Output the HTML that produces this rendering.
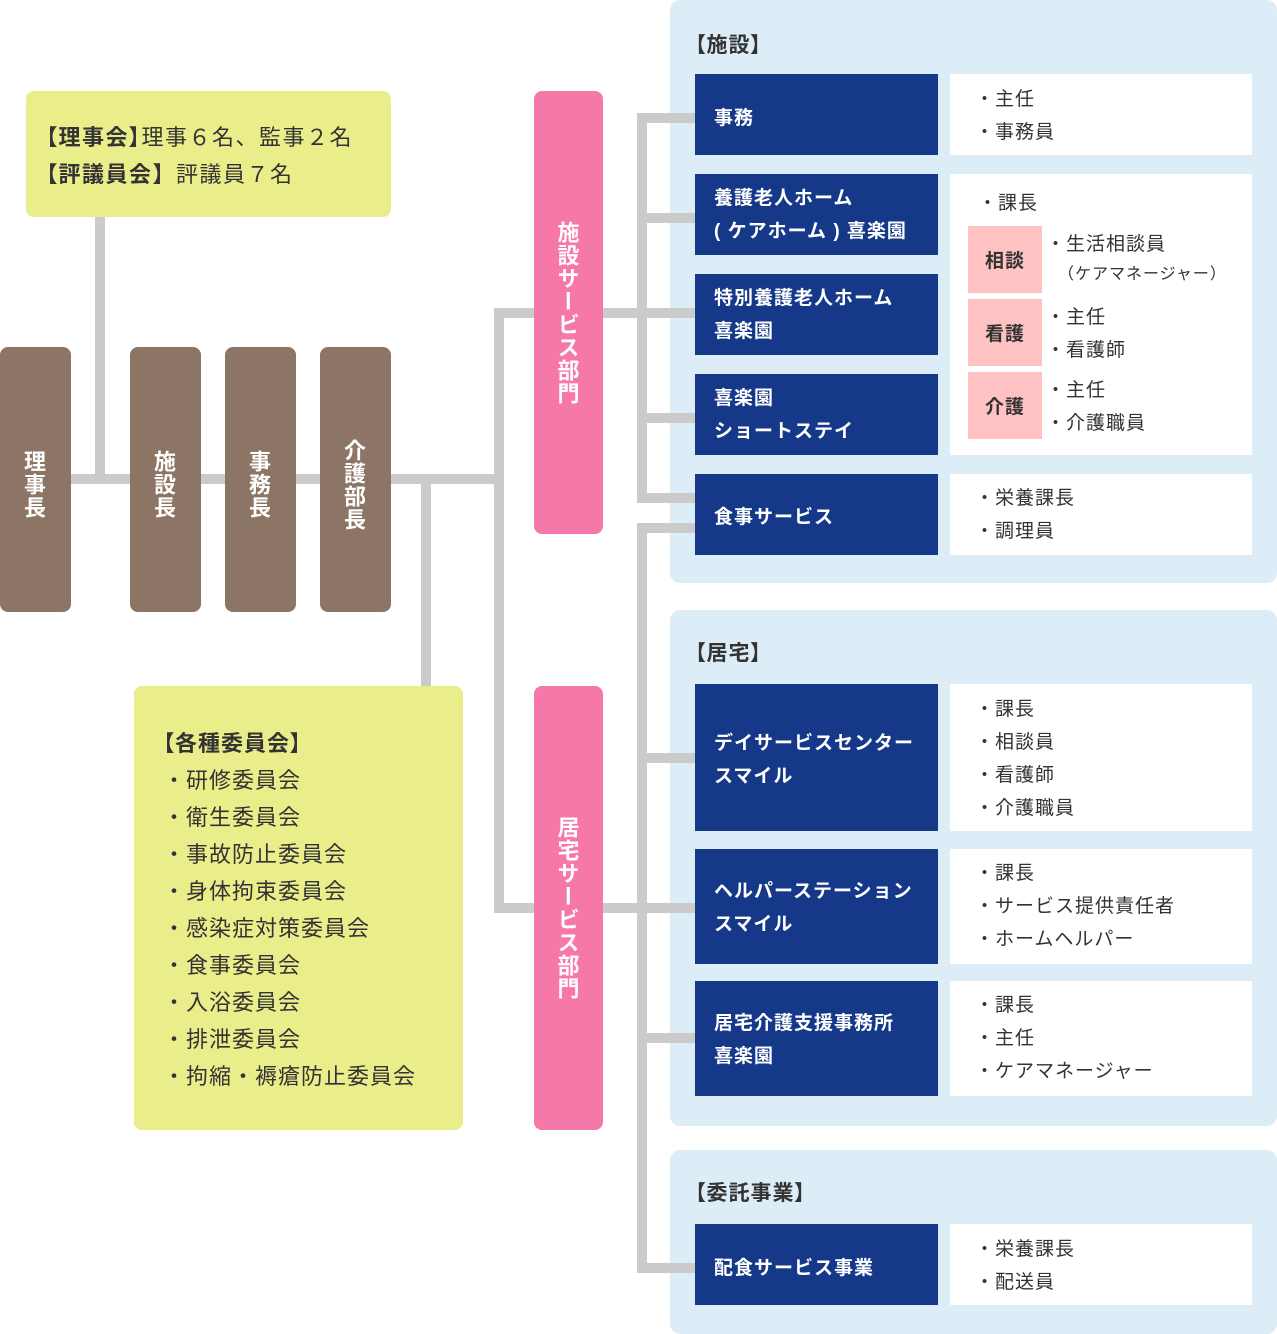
<!DOCTYPE html>
<html><head><meta charset="utf-8">
<style>
*{margin:0;padding:0;box-sizing:border-box}
html,body{width:1277px;height:1334px;overflow:hidden;background:#fff}
body{position:relative;font-family:"Liberation Sans","Noto Sans CJK JP",sans-serif;color:#333}
.ln{position:absolute;background:#cbcbcb}
.panel{position:absolute;left:670px;width:607px;background:#dcedf7;border-radius:10px}
.db{position:absolute;left:695px;width:243px;background:#153889}
.wb{position:absolute;left:950px;width:302px;background:#fff}
.dt{position:absolute;left:714px;color:#fff;font-weight:700;font-size:19px;letter-spacing:1px;line-height:33px;white-space:nowrap}
.wt{position:absolute;left:975px;font-size:19px;letter-spacing:1px;line-height:33px;white-space:nowrap}
.p{font-feature-settings:"palt"}
.brown{position:absolute;top:347px;width:71px;height:265px;background:#8d7565;border-radius:8px;display:flex;align-items:center;justify-content:center;padding-top:10px;padding-right:5px}
.vt{writing-mode:vertical-rl;color:#fff;font-weight:700;font-size:22px;letter-spacing:1px;line-height:1}
.pink{position:absolute;left:534px;width:69px;background:#f678a9;border-radius:8px;display:flex;align-items:center;justify-content:center;padding-right:4px}
.lab{position:absolute;left:968px;width:74px;height:67px;background:#fec2c2;display:flex;align-items:center;justify-content:center;font-weight:700;font-size:19px;letter-spacing:1px}
.hd{position:absolute;left:695px;font-weight:700;font-size:21px;letter-spacing:1px;line-height:33px;white-space:nowrap;font-feature-settings:"palt"}
.yb{position:absolute;background:#e9ee8b;border-radius:8px}
.yt{position:absolute;font-size:22px;letter-spacing:1px;line-height:37px;white-space:nowrap}
</style>
</head>
<body>
<!-- panels -->
<div class="panel" style="top:0;height:583px"></div>
<div class="panel" style="top:610px;height:516px"></div>
<div class="panel" style="top:1150px;height:184px"></div>

<!-- connector lines -->
<div class="ln" style="left:95px;top:216px;width:10px;height:268px"></div>
<div class="ln" style="left:71px;top:474px;width:433px;height:10px"></div>
<div class="ln" style="left:494px;top:308px;width:10px;height:605px"></div>
<div class="ln" style="left:494px;top:308px;width:201px;height:10px"></div>
<div class="ln" style="left:494px;top:903px;width:201px;height:10px"></div>
<div class="ln" style="left:421px;top:474px;width:10px;height:212px"></div>
<div class="ln" style="left:637px;top:113px;width:10px;height:390px"></div>
<div class="ln" style="left:637px;top:113px;width:58px;height:10px"></div>
<div class="ln" style="left:637px;top:213px;width:58px;height:10px"></div>
<div class="ln" style="left:637px;top:413px;width:58px;height:10px"></div>
<div class="ln" style="left:637px;top:493px;width:58px;height:10px"></div>
<div class="ln" style="left:637px;top:523px;width:10px;height:750px"></div>
<div class="ln" style="left:637px;top:523px;width:58px;height:10px"></div>
<div class="ln" style="left:637px;top:753px;width:58px;height:10px"></div>
<div class="ln" style="left:637px;top:1033px;width:58px;height:10px"></div>
<div class="ln" style="left:637px;top:1263px;width:58px;height:10px"></div>

<!-- top yellow box -->
<div class="yb" style="left:26px;top:91px;width:365px;height:126px"></div>
<div class="yt" style="left:46px;top:119px;letter-spacing:1.5px"><b><span class="p">【</span>理事会<span class="p">】</span></b>理事６名、監事２名<br><b><span class="p">【</span>評議員会】</b>評議員７名</div>

<!-- brown boxes -->
<div class="brown" style="left:0"><span class="vt">理事長</span></div>
<div class="brown" style="left:130px"><span class="vt">施設長</span></div>
<div class="brown" style="left:225px"><span class="vt">事務長</span></div>
<div class="brown" style="left:320px"><span class="vt">介護部長</span></div>

<!-- committee box -->
<div class="yb" style="left:134px;top:686px;width:329px;height:444px"></div>
<div class="yt" style="left:163px;top:725px"><b class="p">【各種委員会】</b><br>・研修委員会<br>・衛生委員会<br>・事故防止委員会<br>・身体拘束委員会<br>・感染症対策委員会<br>・食事委員会<br>・入浴委員会<br>・排泄委員会<br>・拘縮・褥瘡防止委員会</div>

<!-- pink dept boxes -->
<div class="pink" style="top:91px;height:443px"><span class="vt">施設サービス部門</span></div>
<div class="pink" style="top:686px;height:444px"><span class="vt">居宅サービス部門</span></div>

<!-- headings -->
<div class="hd" style="top:29px">【施設】</div>
<div class="hd" style="top:637px">【居宅】</div>
<div class="hd" style="top:1177px">【委託事業】</div>

<!-- dark boxes -->
<div class="db" style="top:74px;height:81px"></div>
<div class="db" style="top:174px;height:81px"></div>
<div class="db" style="top:274px;height:81px"></div>
<div class="db" style="top:374px;height:81px"></div>
<div class="db" style="top:474px;height:81px"></div>
<div class="db" style="top:684px;height:147px"></div>
<div class="db" style="top:849px;height:115px"></div>
<div class="db" style="top:981px;height:115px"></div>
<div class="db" style="top:1224px;height:81px"></div>

<div class="dt" style="top:102px">事務</div>
<div class="dt" style="top:182px">養護老人ホーム<br>(&nbsp;ケアホーム&nbsp;)&nbsp;喜楽園</div>
<div class="dt" style="top:282px">特別養護老人ホーム<br>喜楽園</div>
<div class="dt" style="top:382px">喜楽園<br>ショートステイ</div>
<div class="dt" style="top:501px">食事サービス</div>
<div class="dt" style="top:727px">デイサービスセンター<br>スマイル</div>
<div class="dt" style="top:875px">ヘルパーステーション<br>スマイル</div>
<div class="dt" style="top:1007px">居宅介護支援事務所<br>喜楽園</div>
<div class="dt" style="top:1252px">配食サービス事業</div>

<!-- white boxes -->
<div class="wb" style="top:74px;height:81px"></div>
<div class="wb" style="top:174px;height:281px"></div>
<div class="wb" style="top:474px;height:81px"></div>
<div class="wb" style="top:684px;height:147px"></div>
<div class="wb" style="top:849px;height:115px"></div>
<div class="wb" style="top:981px;height:115px"></div>
<div class="wb" style="top:1224px;height:81px"></div>

<div class="wt" style="top:83px">・主任<br>・事務員</div>
<div class="wt" style="top:187px;left:978px">・課長</div>
<div class="lab" style="top:226px">相談</div>
<div class="lab" style="top:299px">看護</div>
<div class="lab" style="top:372px">介護</div>
<div class="wt" style="top:228px;left:1046px">・生活相談員</div>
<div class="wt" style="top:258px;left:1058px;font-size:16px">（ケアマネージャー）</div>
<div class="wt" style="top:301px;left:1046px">・主任<br>・看護師</div>
<div class="wt" style="top:374px;left:1046px">・主任<br>・介護職員</div>
<div class="wt" style="top:482px">・栄養課長<br>・調理員</div>
<div class="wt" style="top:693px">・課長<br>・相談員<br>・看護師<br>・介護職員</div>
<div class="wt" style="top:857px">・課長<br>・サービス提供責任者<br>・ホームヘルパー</div>
<div class="wt" style="top:989px">・課長<br>・主任<br>・ケアマネージャー</div>
<div class="wt" style="top:1233px">・栄養課長<br>・配送員</div>
</body>
</html>
